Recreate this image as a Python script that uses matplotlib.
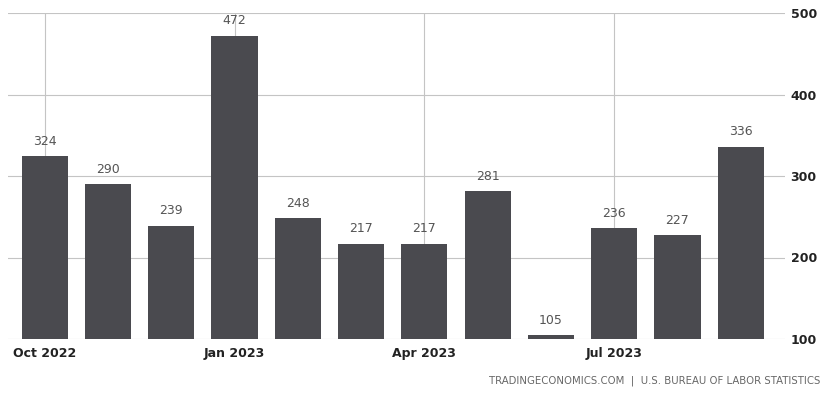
import matplotlib
matplotlib.use("Agg")
import matplotlib.pyplot as plt

months = ["Oct 2022", "Nov 2022", "Dec 2022", "Jan 2023", "Feb 2023", "Mar 2023",
          "Apr 2023", "May 2023", "Jun 2023", "Jul 2023", "Aug 2023", "Sep 2023"]
values = [324, 290, 239, 472, 248, 217, 217, 281, 105, 236, 227, 336]
tick_labels = ["Oct 2022", "Jan 2023", "Apr 2023", "Jul 2023"]
y_ticks = [100, 200, 300, 400, 500]

plt.rcParams['font.family'] = ['DejaVu Sans']

fig = plt.figure(figsize=(8.24, 4.0), dpi=100)
ax = fig.add_axes([8/824, 1-339/400, (785-8)/824, (339-13)/400])

x = list(range(len(months)))
ax.bar(x, values, width=0.73, color="#4a4a4f", zorder=3)
for xi, v in zip(x, values):
    ax.annotate(str(v), (xi, v), xytext=(0, 6), textcoords="offset points",
                ha="center", va="bottom", fontsize=9, color="#555555", zorder=4)

ax.set_ylim(100, 500)
ax.set_xlim(-0.58, 11.7)
ax.set_yticks(y_ticks)
ax.yaxis.tick_right()
ax.tick_params(axis="y", length=0, pad=4, labelsize=9, labelcolor="#222222")
for lab in ax.get_yticklabels():
    lab.set_fontweight("bold")

tick_pos = [months.index(t) for t in tick_labels]
ax.set_xticks(tick_pos)
ax.set_xticklabels(tick_labels, fontsize=9, fontweight="bold", color="#222222")
ax.tick_params(axis="x", length=0, pad=6)

ax.grid(True, axis="both", color="#c4c4c4", linewidth=0.8, zorder=0)
for s in ax.spines.values():
    s.set_visible(False)

fig.text(820/824, 1-381/400, "TRADINGECONOMICS.COM  |  U.S. BUREAU OF LABOR STATISTICS",
         ha="right", va="center", fontsize=7.3, color="#666666")

fig.savefig("out.png", dpi=100)
